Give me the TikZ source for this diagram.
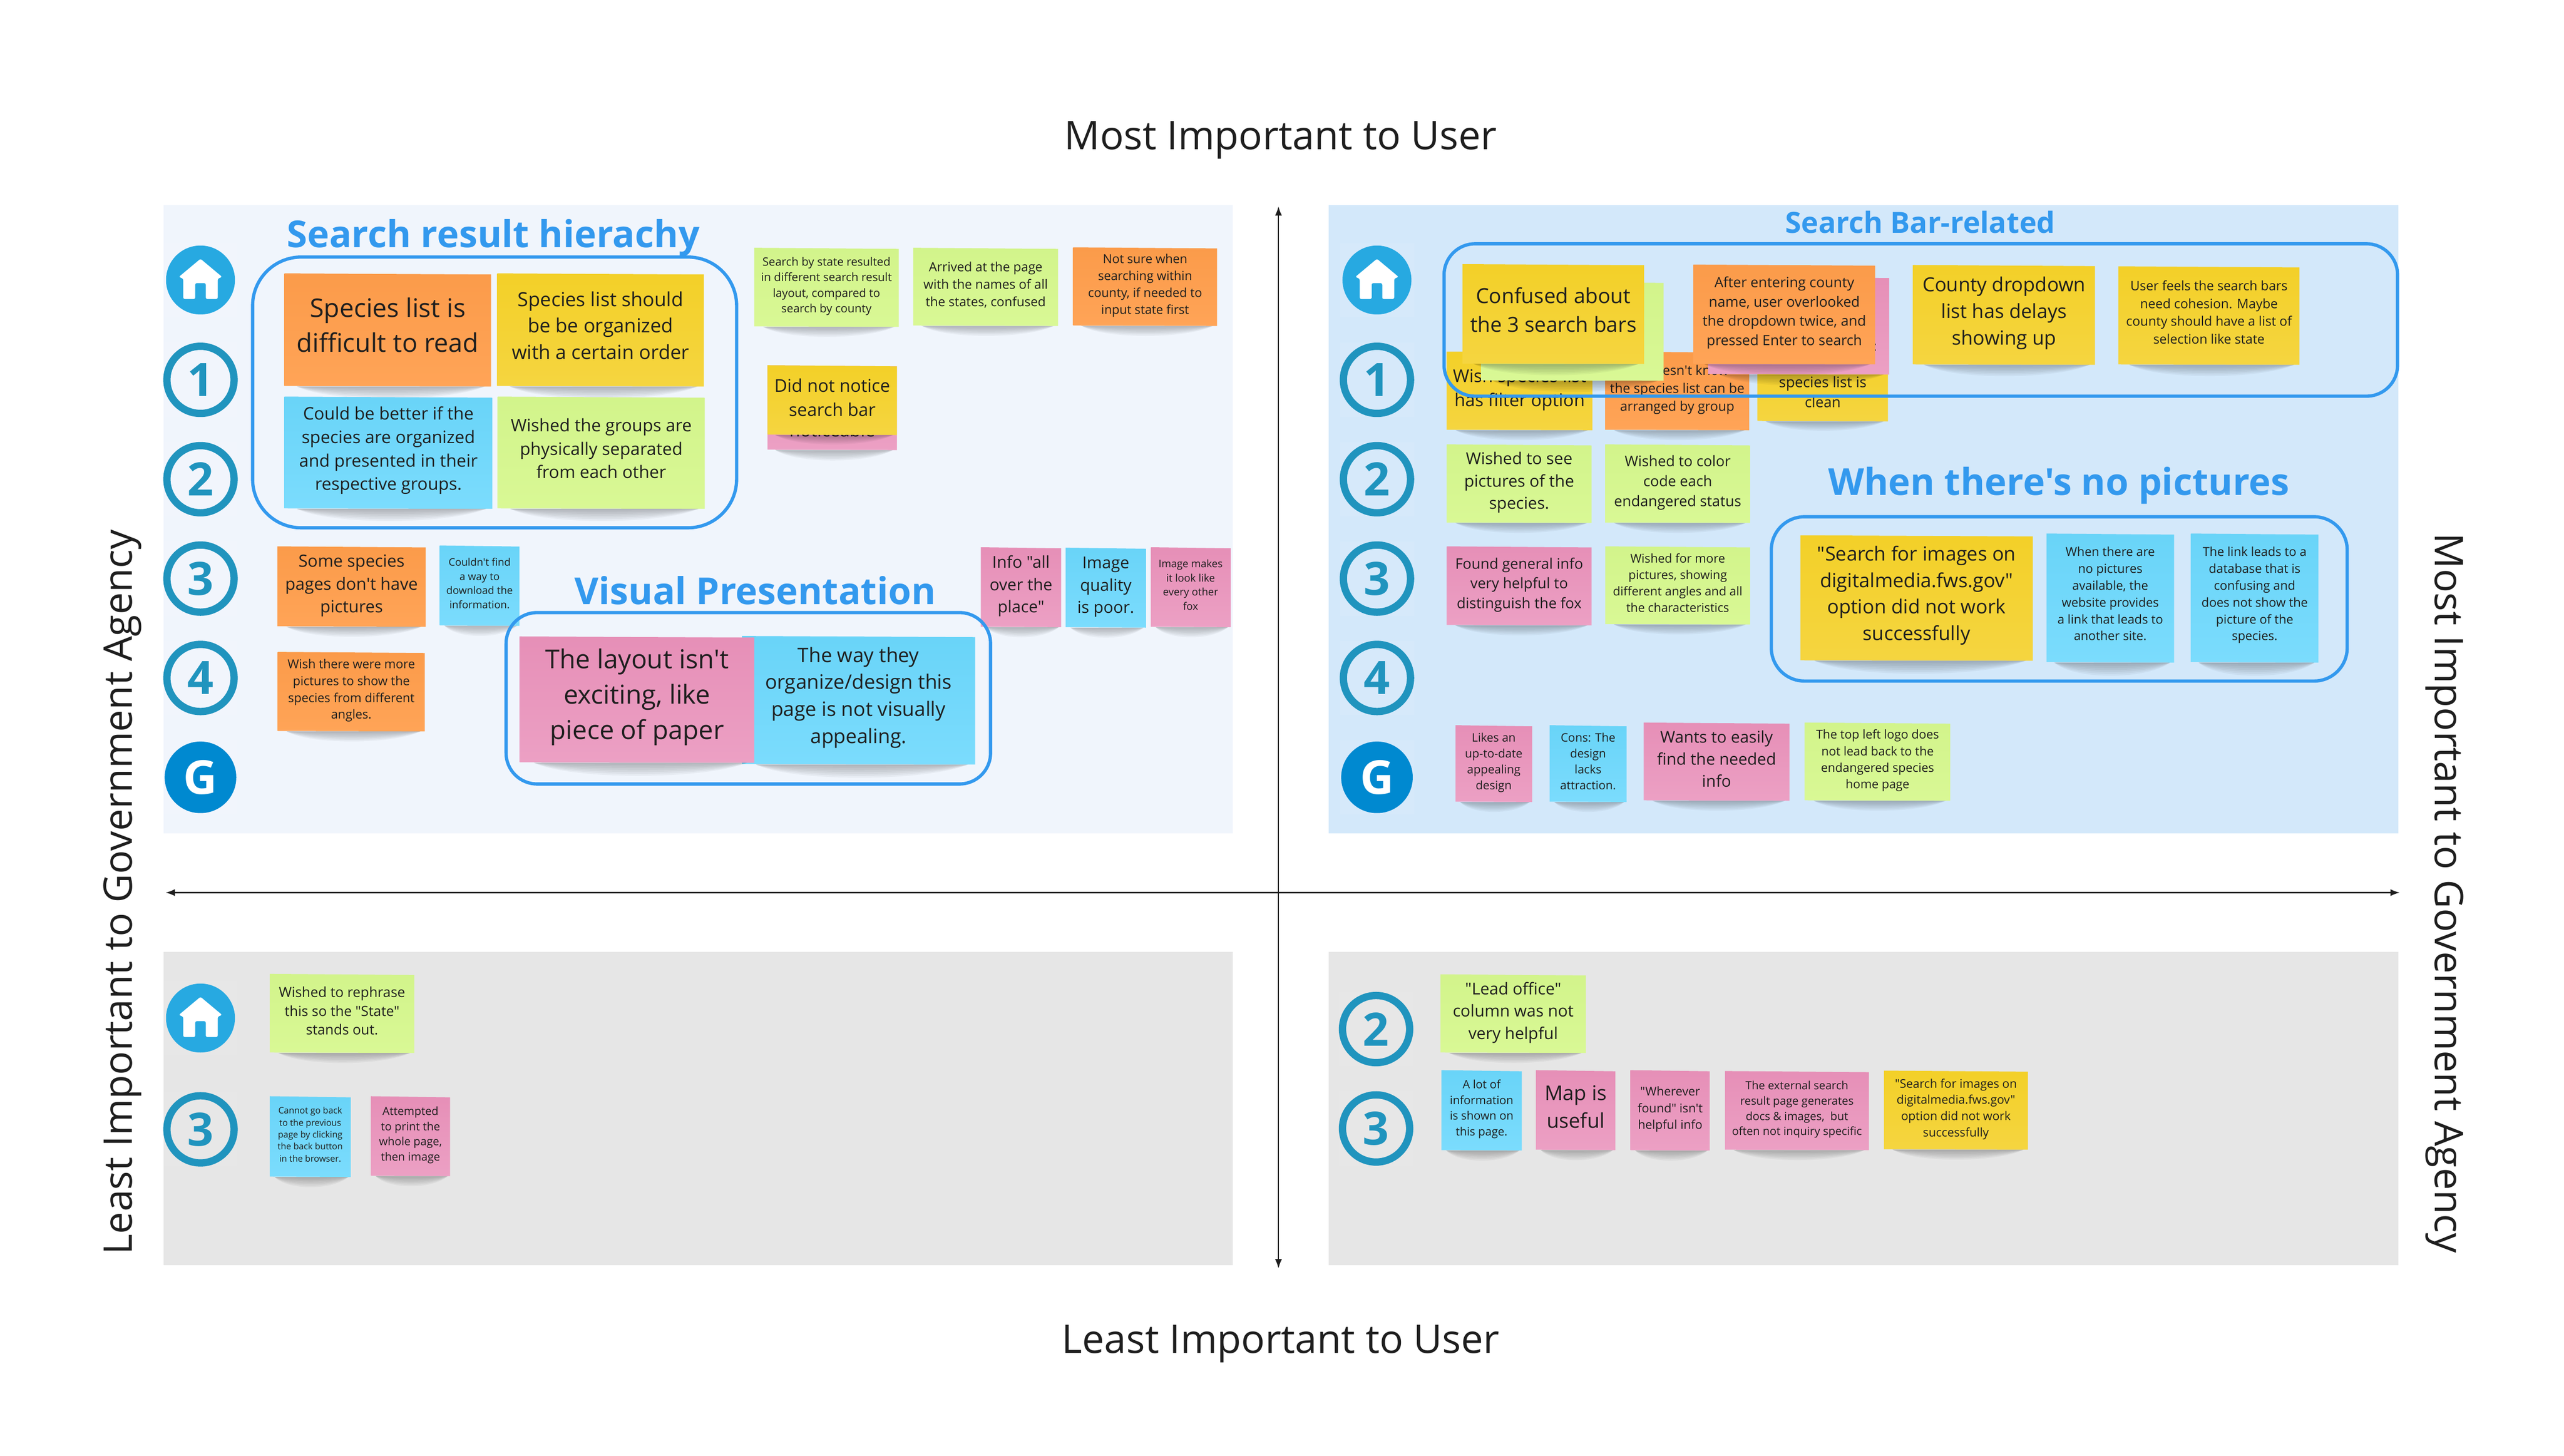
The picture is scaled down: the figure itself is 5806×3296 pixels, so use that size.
\documentclass[tikz,border=0pt]{standalone}
\usepackage{fontspec}
\setmainfont[Ligatures=TeXOff]{Open Sans}
\usetikzlibrary{arrows.meta}
\definecolor{ink}{HTML}{1E1E1E}
\definecolor{orangeT}{HTML}{FB9B4A}\definecolor{orangeB}{HTML}{FFA457}
\definecolor{yellowT}{HTML}{F3D028}\definecolor{yellowB}{HTML}{F5D540}
\definecolor{blueT}{HTML}{69D4F8}\definecolor{blueB}{HTML}{7BDCFD}
\definecolor{greenT}{HTML}{D2F48B}\definecolor{greenB}{HTML}{D9F895}
\definecolor{pinkT}{HTML}{E68FB7}\definecolor{pinkB}{HTML}{ECA0C4}
\definecolor{panelA}{HTML}{F0F5FC}\definecolor{panelB}{HTML}{D3E8FA}\definecolor{panelC}{HTML}{E6E6E6}
\definecolor{titleblue}{HTML}{3399EE}
\definecolor{ringc}{HTML}{2094BE}\definecolor{homec}{HTML}{27A9E1}\definecolor{gc}{HTML}{0089D0}
\newcommand\pxfont[1]{\pgfmathsetmacro\fsA{#1*0.28453}\pgfmathsetmacro\fsB{#1*0.28453*1.36}\fontsize{\fsA pt}{\fsB pt}\selectfont}
\tikzset{
  stx/.style={align=center,inner sep=0pt,text=ink},
  titletext/.style={inner sep=0pt,text=titleblue,font=\bfseries\pxfont{#1}},
  axislabel/.style={inner sep=0pt,text=ink,font=\pxfont{89.3}},
  groupbox/.style={draw=titleblue,line width=2.1pt},
  axisline/.style={draw=ink,line width=0.85pt,{Latex[length=6pt,width=4.5pt]}-{Latex[length=6pt,width=4.5pt]}},
  ringicon/.style={circle,draw=ringc,line width=4.7pt,minimum size=1.52cm,inner sep=0pt,text=ringc,font=\bfseries\pxfont{104}},
  homeicon/.style={circle,fill=homec,minimum size=1.56cm,inner sep=0pt},
  gicon/.style={circle,fill=gc,minimum size=1.62cm,inner sep=0pt,text=white,font=\bfseries\pxfont{106}},
  hatch/.style={fill=white,fill opacity=0.08}
}
\newcommand\sticky[9][none]{%
  \pgfmathsetmacro\stW{#5-#3}\pgfmathsetmacro\stH{#6-#4}%
  \pgfmathsetmacro\stCx{(#3+#5)/2}%
  \def\stTest{#1}\def\stNone{none}%
  \ifx\stTest\stNone\pgfmathsetmacro\stCy{(#4+#6)/2-0.035*\stH+3.5}\else\pgfmathsetmacro\stCy{(#4+#6)/2+#1}\fi
  \pgfmathsetmacro\stXa{#3+.06*\stW}\pgfmathsetmacro\stXb{#5-.03*\stW}%
  \pgfmathsetmacro\stXc{#3+.22*\stW}\pgfmathsetmacro\stXd{#5-.22*\stW}%
  \pgfmathsetmacro\stD{(11+.065*\stH)/.75}%
  \foreach \stI in {1,...,7}{%
    \pgfmathsetmacro\stY{#6+\stI*\stD/7}%
    \fill[black,opacity=.04] (\stXa,#6) .. controls (\stXc,\stY) and (\stXd,\stY) .. (\stXb,#6) -- cycle;}%
  \shade[top color=#7T,bottom color=#7B] (#3,#4) -- (#5,#4+2.5) -- (#5,#6) -- (#3,#6-1) -- cycle;
  \node[stx,font=\pxfont{#8}] (#2) at (\stCx,\stCy) {\strut #9\strut};
}
\newcommand\numring[4]{\fill[hatch] (#3-84,#4-84) rectangle (#3+84,#4+84);\node[ringicon] (#1) at (#3,#4) {#2};}
\newcommand\gmark[3]{\fill[hatch] (#2-84,#3-84) rectangle (#2+84,#3+84);\node[gicon] (#1) at (#2,#3) {G};}
\newcommand\homemark[3]{\fill[hatch] (#2-84,#3-84) rectangle (#2+84,#3+84);\node[homeicon] (#1) at (#2,#3) {};
  \fill[white,rounded corners=1pt,shift={(#2,#3)}] (0,-48)--(49,-7)--(39,-3)--(39,43)--(12,43)--(12,7)--(-12,7)--(-12,43)--(-39,43)--(-39,-3)--(-49,-7)--cycle;}
\begin{document}
\begin{tikzpicture}[x=0.01cm,y=-0.01cm]
\useasboundingbox (0,0) rectangle (5806,3296);
\fill[white] (0,0) rectangle (5806,3296);
% panels
\fill[panelA] (370,464) rectangle (2792,1887);
\fill[panelB] (3009,464) rectangle (5431,1887);
\fill[panelC] (370,2155) rectangle (2792,2865);
\fill[panelC] (3009,2155) rectangle (5431,2865);
% axes
\coordinate (axN) at (2895,467);\coordinate (axS) at (2895,2872);
\coordinate (axW) at (375,2021);\coordinate (axE) at (5434,2021);
\draw[axisline] (axN) -- (axS);
\draw[axisline] (axW) -- (axE);
\node[axislabel] (lblTop) at (2900,317) {Most Important to User};
\node[axislabel] (lblBottom) at (2900,3043) {Least Important to User};
\node[axislabel,rotate=90] (lblLeft) at (277,2020) {Least Important to Government Agency};
\node[axislabel,rotate=-90] (lblRight) at (5536,2022) {Most Important to Government Agency};
% icons
\homemark{tlH}{454}{634}\numring{tlA}{1}{454}{860}\numring{tlB}{2}{454}{1085}\numring{tlC}{3}{454}{1310}\numring{tlD}{4}{454}{1535}\gmark{tlG}{454}{1760}
\homemark{trH}{3118}{634}\numring{trA}{1}{3118}{860}\numring{trB}{2}{3118}{1085}\numring{trC}{3}{3118}{1310}\numring{trD}{4}{3118}{1535}\gmark{trG}{3118}{1760}
\homemark{blH}{454}{2305}\numring{blC}{3}{454}{2557}
\numring{brB}{2}{3116}{2330}\numring{brC}{3}{3116}{2555}
% titles
\node[titletext=84] (tSearch) at (1117,538) {Search result hierachy};
\node[titletext=84] (tVisual) at (1710,1337) {Visual Presentation};
\node[titletext=66] (tBar) at (4348,503) {Search Bar-related};
\node[titletext=84] (tNoPic) at (4662,1099) {When there's no pictures};
% top left
\sticky{s1}{644}{619}{1112}{875}{orange}{58}{Species list is\\difficult to read}
\sticky{s2}{1126}{619}{1594}{875}{yellow}{44}{Species list should\\be be organized\\with a certain order}
\sticky{s3}{644}{898}{1115}{1152}{blue}{39}{Could be better if the\\species are organized\\and presented in their\\respective groups.}
\sticky{s4}{1127}{898}{1596}{1152}{green}{39}{Wished the groups are\\physically separated\\from each other}
\sticky{s5}{1708}{561}{2035}{740}{green}{26}{Search by state resulted\\in different search result\\layout, compared to\\search by county}
\sticky{s6}{2068}{561}{2396}{738}{green}{29}{Arrived at the page\\with the names of all\\the states, confused}
\sticky{s7}{2430}{560}{2756}{738}{orange}{28}{Not sure when\\searching within\\county, if needed to\\input state first}
\sticky[55]{s8}{1738}{827}{2031}{1019}{pink}{40}{noticeable}
\sticky{s9}{1738}{827}{2031}{985}{yellow}{40}{Did not notice\\search bar}
\sticky{s10}{2221}{1239}{2403}{1420}{pink}{37}{Info "all\\over the\\place"}
\sticky{s11}{2413}{1240}{2595}{1421}{blue}{37}{Image\\quality\\is poor.}
\sticky{s12}{2606}{1239}{2786}{1420}{pink}{23.5}{Image makes\\it look like\\every other\\fox}
\sticky{s13}{628}{1237}{964}{1419}{orange}{38}{Some species\\pages don't have\\pictures}
\sticky{s14}{996}{1235}{1176}{1417}{blue}{23.5}{Couldn't find\\a way to\\download the\\information.}
\sticky{s15}{629}{1476}{962}{1656}{orange}{28}{Wish there were more\\pictures to show the\\species from different\\angles.}
\sticky{s16}{1680}{1440}{2208}{1731}{blue}{45}{The way they\\organize/design this\\page is not visually\\appealing.}
\sticky{s17}{1177}{1441}{1708}{1727}{pink}{59}{The layout isn't\\exciting, like\\piece of paper}
% top right
\sticky{r1}{3276}{796}{3606}{974}{yellow}{40}{Wish species list\\has filter option}
\sticky{r2}{3635}{796}{3961}{974}{orange}{30}{He doesn't know\\the species list can be\\arranged by group}
\sticky[16]{r3}{3980}{796}{4275}{954}{yellow}{33}{species list is\\clean}
\sticky[-7]{r4}{3354}{638}{3767}{862}{green}{33}{User used this search\\\mbox{}\\one for the counties.}
\sticky{r5}{3868}{627}{4278}{848}{pink}{30}{}
\node[stx,font=\pxfont{30}] (r5b) at (4246,787) {:};
\sticky{r6}{3312}{598}{3723}{824}{yellow}{47}{Confused about\\the 3 search bars}
\sticky{r7}{3835}{599}{4246}{825}{orange}{32}{After entering county\\name, user overlooked\\the dropdown twice, and\\pressed Enter to search}
\sticky{r8}{4332}{600}{4744}{826}{yellow}{44}{County dropdown\\list has delays\\showing up}
\sticky{r9}{4797}{603}{5207}{826}{yellow}{29.5}{User feels the search bars\\need cohesion. Maybe\\county should have a list of\\selection like state}
\sticky{r10}{3276}{1006}{3604}{1184}{green}{37}{Wished to see\\pictures of the\\species.}
\sticky{r11}{3635}{1006}{3963}{1184}{green}{33}{Wished to color\\code each\\endangered status}
\sticky{r12}{3276}{1237}{3604}{1416}{pink}{33}{Found general info\\very helpful to\\distinguish the fox}
\sticky{r13}{3635}{1237}{3963}{1414}{green}{27.5}{Wished for more\\pictures, showing\\different angles and all\\the characteristics}
\sticky{r14}{4077}{1212}{4603}{1496}{yellow}{44}{"Search for images on\\digitalmedia.fws.gov"\\option did not work\\successfully}
\sticky{r15}{4634}{1208}{4923}{1500}{blue}{28}{When there are\\no pictures\\available, the\\website provides\\a link that leads to\\another site.}
\sticky{r16}{4961}{1208}{5250}{1500}{blue}{28}{The link leads to a\\database that is\\confusing and\\does not show the\\picture of the\\species.}
\sticky{r17}{3296}{1642}{3469}{1816}{pink}{26.5}{Likes an\\up-to-date\\appealing\\design}
\sticky{r18}{3509}{1642}{3683}{1816}{blue}{26.5}{Cons: The\\design\\lacks\\attraction.}
\sticky{r19}{3722}{1636}{4052}{1813}{pink}{36.5}{Wants to easily\\find the needed\\info}
\sticky{r20}{4087}{1636}{4416}{1813}{green}{27.5}{The top left logo does\\not lead back to the\\endangered species\\home page}
% bottom left
\sticky{b1}{611}{2205}{938}{2384}{green}{31.5}{Wished to rephrase\\this so the "State"\\stands out.}
\sticky{b2}{611}{2482}{794}{2665}{blue}{20}{Cannot go back\\to the previous\\page by clicking\\the back button\\in the browser.}
\sticky{b3}{840}{2482}{1019}{2663}{pink}{25.5}{Attempted\\to print the\\whole page,\\then image}
% bottom right
\sticky{c1}{3262}{2206}{3591}{2384}{green}{37}{"Lead office"\\column was not\\very helpful}
\sticky{c2}{3264}{2423}{3446}{2605}{blue}{26}{A lot of\\information\\is shown on\\this page.}
\sticky{c3}{3478}{2423}{3658}{2604}{pink}{46}{Map is\\useful}
\sticky{c4}{3692}{2423}{3872}{2605}{pink}{27.5}{"Wherever\\found" isn't\\helpful info}
\sticky{c5}{3906}{2425}{4232}{2604}{pink}{25.5}{The external search\\result page generates\\docs \& images,\ \ but\\often not inquiry specific}
\sticky{c6}{4266}{2424}{4592}{2603}{yellow}{27}{"Search for images on\\digitalmedia.fws.gov"\\option did not work\\successfully}
% group outlines
\draw[groupbox,rounded corners=1.1cm] (572,582) rectangle (1668,1195);
\draw[groupbox,rounded corners=0.7cm] (1146,1387) rectangle (2243,1775);
\draw[groupbox,rounded corners=0.7cm] (3270,552) rectangle (5429,897);
\draw[groupbox,rounded corners=0.75cm] (4011,1170) rectangle (5315,1542);
\end{tikzpicture}
\end{document}
